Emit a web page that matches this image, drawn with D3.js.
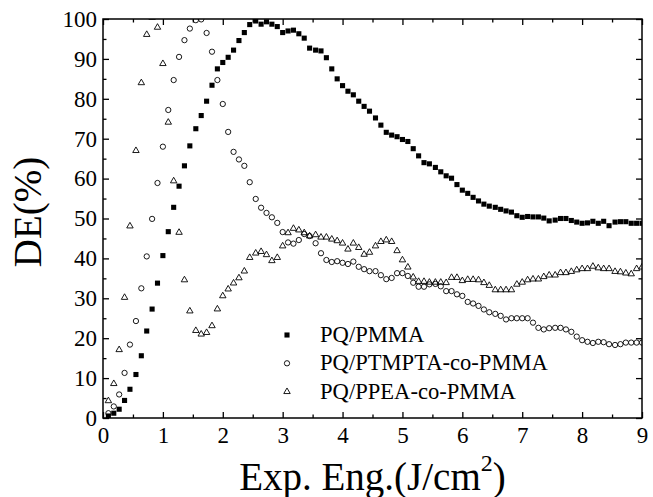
<!DOCTYPE html>
<html>
<head>
<meta charset="utf-8">
<script src="https://cdn.jsdelivr.net/npm/d3@7"></script>
<style>
  body { margin: 0; background: #fff; }
  svg, svg text { font-family: "Liberation Serif", "Times New Roman", Times, serif !important; fill: #000; }
</style>
</head>
<body>
<div id="chart"></div>
<script>
// Exposure energy (J/cm2) shared by all three series
var exposure = [
  0.09, 0.18, 0.27, 0.36, 0.45, 0.55, 0.64, 0.73, 0.82, 0.91, 1.00,
  1.09, 1.18, 1.27, 1.36, 1.45, 1.55, 1.64, 1.73, 1.82, 1.91, 2.00,
  2.09, 2.18, 2.27, 2.36, 2.45, 2.55, 2.64, 2.73, 2.82, 2.91, 3.00,
  3.09, 3.18, 3.27, 3.36, 3.45, 3.55, 3.64, 3.73, 3.82, 3.91, 4.00,
  4.09, 4.18, 4.27, 4.36, 4.45, 4.55, 4.64, 4.73, 4.82, 4.91, 5.00,
  5.09, 5.18, 5.27, 5.36, 5.45, 5.55, 5.64, 5.73, 5.82, 5.91, 6.00,
  6.09, 6.18, 6.27, 6.36, 6.45, 6.55, 6.64, 6.73, 6.82, 6.91, 7.00,
  7.09, 7.18, 7.27, 7.36, 7.45, 7.55, 7.64, 7.73, 7.82, 7.91, 8.00,
  8.09, 8.18, 8.27, 8.36, 8.45, 8.55, 8.64, 8.73, 8.82, 8.91, 9.00
];

// DE (%) for PQ/PMMA
var dePMMA = [
  0.5, 1.2, 2.2, 4.4, 7.2, 10.9, 15.6, 21.8, 27.3, 33.8, 40.7,
  46.7, 52.8, 58.1, 63.2, 68.2, 72.5, 75.8, 79.4, 83.4, 87.5, 89.1,
  90.4, 92.2, 94.6, 96.6, 98.6, 99.5, 98.7, 99.3, 98.7, 98.1, 96.6,
  97.0, 97.2, 96.3, 95.2, 92.7, 92.2, 92.0, 90.3, 87.5, 85.0, 83.3,
  81.9, 81.0, 79.4, 78.1, 76.9, 75.2, 73.4, 71.6, 70.9, 70.5, 69.8,
  69.3, 67.5, 65.7, 64.0, 63.7, 62.8, 61.7, 60.7, 60.1, 58.5, 57.1,
  56.3, 55.3, 54.4, 53.6, 53.1, 52.8, 52.3, 51.9, 51.6, 50.7, 50.3,
  50.5, 50.4, 50.4, 50.1, 49.4, 49.6, 50.0, 50.0, 49.5, 49.1, 48.8,
  48.9, 49.3, 48.8, 49.3, 48.2, 49.1, 49.2, 49.2, 48.8, 48.8, 48.8
];

// DE (%) for PQ/PTMPTA-co-PMMA
var dePTMPTA = [
  1.2, 2.9, 5.9, 11.3, 18.4, 24.3, 32.5, 40.5, 49.9, 58.9, 68.0,
  77.2, 84.7, 90.5, 94.7, 97.6, 99.7, 99.9, 96.5, 91.8, 84.7, 78.7,
  71.7, 66.7, 64.8, 63.2, 59.1, 54.9, 52.7, 51.4, 50.3, 48.9, 46.6,
  44.0, 43.7, 44.6, 46.1, 45.6, 43.8, 41.3, 39.6, 39.1, 39.3, 38.9,
  38.6, 39.2, 37.9, 37.3, 36.8, 36.8, 35.8, 34.8, 35.1, 36.3, 36.3,
  35.6, 33.9, 32.9, 32.9, 33.5, 33.6, 33.0, 31.8, 31.8, 31.0, 30.6,
  29.1, 28.7, 28.1, 27.2, 26.5, 26.1, 25.6, 24.7, 25.0, 25.0, 25.0,
  25.0, 23.9, 22.6, 22.2, 22.5, 22.6, 22.6, 22.2, 21.6, 20.4, 19.5,
  19.1, 18.8, 19.1, 19.0, 18.5, 18.3, 18.5, 18.9, 18.9, 18.9, 18.9
];

// DE (%) for PQ/PPEA-co-PMMA
var dePPEA = [
  4.3, 8.6, 17.1, 30.2, 48.1, 67.0, 84.0, 96.1, 100.4, 97.9, 88.8,
  74.1, 59.4, 46.5, 34.6, 26.8, 21.9, 21.0, 21.4, 23.1, 27.3, 30.6,
  32.3, 33.8, 35.1, 36.8, 40.2, 41.3, 41.7, 40.9, 39.4, 40.2, 43.1,
  46.4, 47.5, 47.1, 46.4, 45.6, 45.9, 45.3, 45.3, 44.8, 44.4, 43.8,
  42.3, 43.8, 42.7, 41.0, 41.5, 43.1, 44.2, 44.6, 44.2, 41.9, 39.6,
  37.8, 35.3, 34.2, 34.2, 34.0, 34.0, 34.0, 33.9, 35.2, 35.2, 34.4,
  34.7, 34.7, 34.6, 33.9, 33.2, 32.1, 32.1, 32.1, 32.1, 33.5, 34.0,
  34.6, 34.8, 34.8, 35.4, 35.8, 35.8, 36.4, 36.4, 36.7, 37.1, 37.4,
  37.4, 38.0, 37.6, 37.4, 37.4, 36.7, 36.6, 36.3, 36.1, 37.4, 37.8
];

var seriesNames = ["PQ/PMMA", "PQ/PTMPTA-co-PMMA", "PQ/PPEA-co-PMMA"];
var xMajorTicks = [0, 1, 2, 3, 4, 5, 6, 7, 8, 9];
var xMinorTicks = [0.5, 1.5, 2.5, 3.5, 4.5, 5.5, 6.5, 7.5, 8.5];
var yMajorTicks = [0, 10, 20, 30, 40, 50, 60, 70, 80, 90, 100];
var yMinorTicks = [5, 15, 25, 35, 45, 55, 65, 75, 85, 95];

var serif = '"Liberation Serif", "Times New Roman", Times, serif';

var svgWidth = 653;
var svgHeight = 497;
var plot = { left: 103, right: 642, top: 19, bottom: 418 };

var svg = d3.select("#chart")
  .append("svg")
  .attr("width", svgWidth)
  .attr("height", svgHeight)
  .style("font-family", serif);

svg.append("rect")
  .attr("width", svgWidth)
  .attr("height", svgHeight)
  .attr("fill", "#fff");

var xScale = d3.scaleLinear().domain([0, 9]).range([plot.left, plot.right]);
var yScale = d3.scaleLinear().domain([0, 100]).range([plot.bottom, plot.top]);

// clip markers to the plotting frame
svg.append("clipPath")
  .attr("id", "plotClip")
  .append("rect")
  .attr("x", plot.left)
  .attr("y", plot.top)
  .attr("width", plot.right - plot.left)
  .attr("height", plot.bottom - plot.top);

// Axes: ticks pointing inward on all four sides
function styleAxis(g) {
  g.attr("font-family", null).style("font-family", serif);
  g.select(".domain").remove();
  g.selectAll(".tick line").attr("stroke", "#000").attr("stroke-width", 1.3);
  g.selectAll("text")
    .style("font-family", serif)
    .style("font-size", "23px")
    .attr("fill", "#000");
}

svg.append("g")
  .attr("transform", `translate(0, ${plot.bottom})`)
  .call(d3.axisBottom(xScale).tickValues(xMajorTicks).tickSize(-6).tickPadding(9).tickFormat(d3.format("d")))
  .call(styleAxis);
svg.append("g")
  .attr("transform", `translate(0, ${plot.bottom})`)
  .call(d3.axisBottom(xScale).tickValues(xMinorTicks).tickSize(-3.5).tickFormat(""))
  .call(styleAxis);
svg.append("g")
  .attr("transform", `translate(0, ${plot.top})`)
  .call(d3.axisTop(xScale).tickValues(xMajorTicks).tickSize(-6).tickFormat(""))
  .call(styleAxis);
svg.append("g")
  .attr("transform", `translate(0, ${plot.top})`)
  .call(d3.axisTop(xScale).tickValues(xMinorTicks).tickSize(-3.5).tickFormat(""))
  .call(styleAxis);

svg.append("g")
  .attr("transform", `translate(${plot.left}, 0)`)
  .call(d3.axisLeft(yScale).tickValues(yMajorTicks).tickSize(-6).tickPadding(6).tickFormat(d3.format("d")))
  .call(styleAxis);
svg.append("g")
  .attr("transform", `translate(${plot.left}, 0)`)
  .call(d3.axisLeft(yScale).tickValues(yMinorTicks).tickSize(-3.5).tickFormat(""))
  .call(styleAxis);
svg.append("g")
  .attr("transform", `translate(${plot.right}, 0)`)
  .call(d3.axisRight(yScale).tickValues(yMajorTicks).tickSize(-6).tickFormat(""))
  .call(styleAxis);
svg.append("g")
  .attr("transform", `translate(${plot.right}, 0)`)
  .call(d3.axisRight(yScale).tickValues(yMinorTicks).tickSize(-3.5).tickFormat(""))
  .call(styleAxis);

// frame
svg.append("rect")
  .attr("x", plot.left)
  .attr("y", plot.top)
  .attr("width", plot.right - plot.left)
  .attr("height", plot.bottom - plot.top)
  .attr("fill", "none")
  .attr("stroke", "#000")
  .attr("stroke-width", 1.5);

// series markers
var squareSym = d3.symbol().type(d3.symbolSquare).size(26);
var circleSym = d3.symbol().type(d3.symbolCircle).size(22);
var triangleSym = d3.symbol().type(d3.symbolTriangle).size(18);

var series = [
  { name: seriesNames[0], values: dePMMA, sym: squareSym, fill: "#000", stroke: "none" },
  { name: seriesNames[1], values: dePTMPTA, sym: circleSym, fill: "none", stroke: "#000" },
  { name: seriesNames[2], values: dePPEA, sym: triangleSym, fill: "none", stroke: "#000" }
];

var markers = svg.append("g").attr("clip-path", "url(#plotClip)");

series.forEach(function(s) {
  markers.append("g")
    .selectAll("path")
    .data(s.values)
    .enter()
    .append("path")
    .attr("d", s.sym)
    .attr("transform", (d, i) => `translate(${xScale(exposure[i])}, ${yScale(d)})`)
    .attr("fill", s.fill)
    .attr("stroke", s.stroke)
    .attr("stroke-width", 0.9);
});

// legend
var legendRows = [335, 363.3, 391.7];
series.forEach(function(s, i) {
  svg.append("path")
    .attr("d", s.sym)
    .attr("transform", `translate(287, ${legendRows[i]})`)
    .attr("fill", s.fill)
    .attr("stroke", s.stroke)
    .attr("stroke-width", 0.9);
  svg.append("text")
    .attr("x", 320)
    .attr("y", legendRows[i] + 7)
    .style("font-family", serif)
    .style("font-size", "22.6px")
    .text(s.name);
});

// axis titles
svg.append("text")
  .attr("transform", "translate(41, 212) rotate(-90)")
  .attr("text-anchor", "middle")
  .style("font-family", serif)
  .style("font-size", "39px")
  .text("DE(%)");

var xTitle = svg.append("text")
  .attr("x", (plot.left + plot.right) / 2)
  .attr("y", 490)
  .attr("text-anchor", "middle")
  .style("font-family", serif)
  .style("font-size", "39px");
xTitle.append("tspan").text("Exp. Eng.(J/cm");
xTitle.append("tspan").attr("dy", -19).style("font-size", "24px").text("2");
xTitle.append("tspan").attr("dy", 19).text(")");
</script>
</body>
</html>
